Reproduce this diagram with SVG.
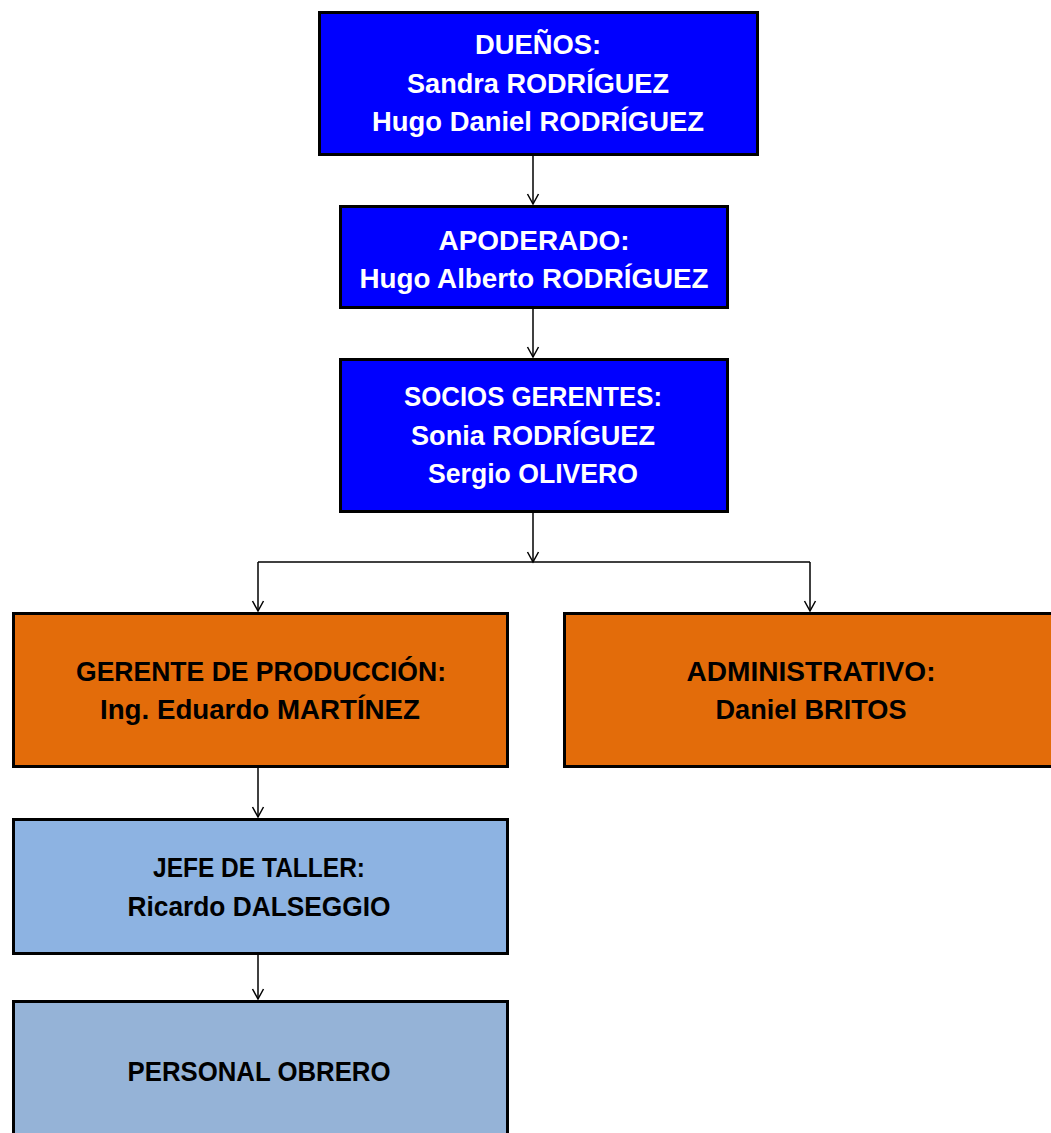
<svg xmlns="http://www.w3.org/2000/svg" width="1051" height="1133" viewBox="0 0 1051 1133">
  <style>
    .box { stroke: #000; stroke-width: 3; }
    .blue { fill: #0000FF; }
    .orange { fill: #E36C0A; }
    .sky { fill: #8DB3E2; }
    .steel { fill: #95B3D7; }
    .lbl { font-family: "Liberation Sans", Arial, sans-serif; font-weight: bold; font-size: 28px; text-anchor: middle; }
    .w { fill: #FFFFFF; }
    .k { fill: #000000; }
    .wire { fill: none; stroke: #000; stroke-width: 1.5; }
  </style>
  <defs>
    <!-- open V arrowhead -->
    <marker id="ahead" markerUnits="userSpaceOnUse" markerWidth="16" markerHeight="16" viewBox="-13 -8 16 16" refX="0" refY="0" orient="auto">
      <path d="M-10,-5.5 L0,0 L-10,5.5" fill="none" stroke="#000" stroke-width="1.5"/>
    </marker>
  </defs>

  <g id="connectors">
    <line class="wire" x1="533" y1="156" x2="533" y2="204" marker-end="url(#ahead)"/>
    <line class="wire" x1="533" y1="309" x2="533" y2="357" marker-end="url(#ahead)"/>
    <line class="wire" x1="533" y1="513" x2="533" y2="562" marker-end="url(#ahead)"/>
    <line class="wire" x1="258" y1="562" x2="810" y2="562"/>
    <line class="wire" x1="258" y1="562" x2="258" y2="611" marker-end="url(#ahead)"/>
    <line class="wire" x1="810" y1="562" x2="810" y2="611" marker-end="url(#ahead)"/>
    <line class="wire" x1="258" y1="768" x2="258" y2="817" marker-end="url(#ahead)"/>
    <line class="wire" x1="258" y1="955" x2="258" y2="999" marker-end="url(#ahead)"/>
  </g>

  <g id="duenos">
    <rect class="box blue" x="319.5" y="12.5" width="438" height="142"/>
    <text class="lbl w" x="538" y="54" textLength="126" lengthAdjust="spacingAndGlyphs">DUEÑOS:</text>
    <text class="lbl w" x="538" y="93" textLength="262" lengthAdjust="spacingAndGlyphs">Sandra RODRÍGUEZ</text>
    <text class="lbl w" x="538" y="131" textLength="332" lengthAdjust="spacingAndGlyphs">Hugo Daniel RODRÍGUEZ</text>
  </g>

  <g id="apoderado">
    <rect class="box blue" x="340.5" y="206.5" width="387" height="101"/>
    <text class="lbl w" x="534" y="250" textLength="191" lengthAdjust="spacingAndGlyphs">APODERADO:</text>
    <text class="lbl w" x="534" y="288" textLength="349" lengthAdjust="spacingAndGlyphs">Hugo Alberto RODRÍGUEZ</text>
  </g>

  <g id="socios-gerentes">
    <rect class="box blue" x="340.5" y="359.5" width="387" height="152"/>
    <text class="lbl w" x="533" y="406" textLength="258" lengthAdjust="spacingAndGlyphs">SOCIOS GERENTES:</text>
    <text class="lbl w" x="533" y="445" textLength="244" lengthAdjust="spacingAndGlyphs">Sonia RODRÍGUEZ</text>
    <text class="lbl w" x="533" y="483" textLength="210" lengthAdjust="spacingAndGlyphs">Sergio OLIVERO</text>
  </g>

  <g id="gerente-produccion">
    <rect class="box orange" x="13.5" y="613.5" width="494" height="153"/>
    <text class="lbl k" x="261" y="681" textLength="370" lengthAdjust="spacingAndGlyphs">GERENTE DE PRODUCCIÓN:</text>
    <text class="lbl k" x="260" y="719" textLength="320" lengthAdjust="spacingAndGlyphs">Ing. Eduardo MARTÍNEZ</text>
  </g>

  <g id="administrativo">
    <rect class="box orange" x="564.5" y="613.5" width="494" height="153"/>
    <text class="lbl k" x="811" y="681" textLength="249" lengthAdjust="spacingAndGlyphs">ADMINISTRATIVO:</text>
    <text class="lbl k" x="811" y="719" textLength="191" lengthAdjust="spacingAndGlyphs">Daniel BRITOS</text>
  </g>

  <g id="jefe-taller">
    <rect class="box sky" x="13.5" y="819.5" width="494" height="134"/>
    <text class="lbl k" x="259" y="877" textLength="212" lengthAdjust="spacingAndGlyphs">JEFE DE TALLER:</text>
    <text class="lbl k" x="259" y="916" textLength="263" lengthAdjust="spacingAndGlyphs">Ricardo DALSEGGIO</text>
  </g>

  <g id="personal-obrero">
    <rect class="box steel" x="13.5" y="1001.5" width="494" height="160"/>
    <text class="lbl k" x="259" y="1081" textLength="263" lengthAdjust="spacingAndGlyphs">PERSONAL OBRERO</text>
  </g>
</svg>
